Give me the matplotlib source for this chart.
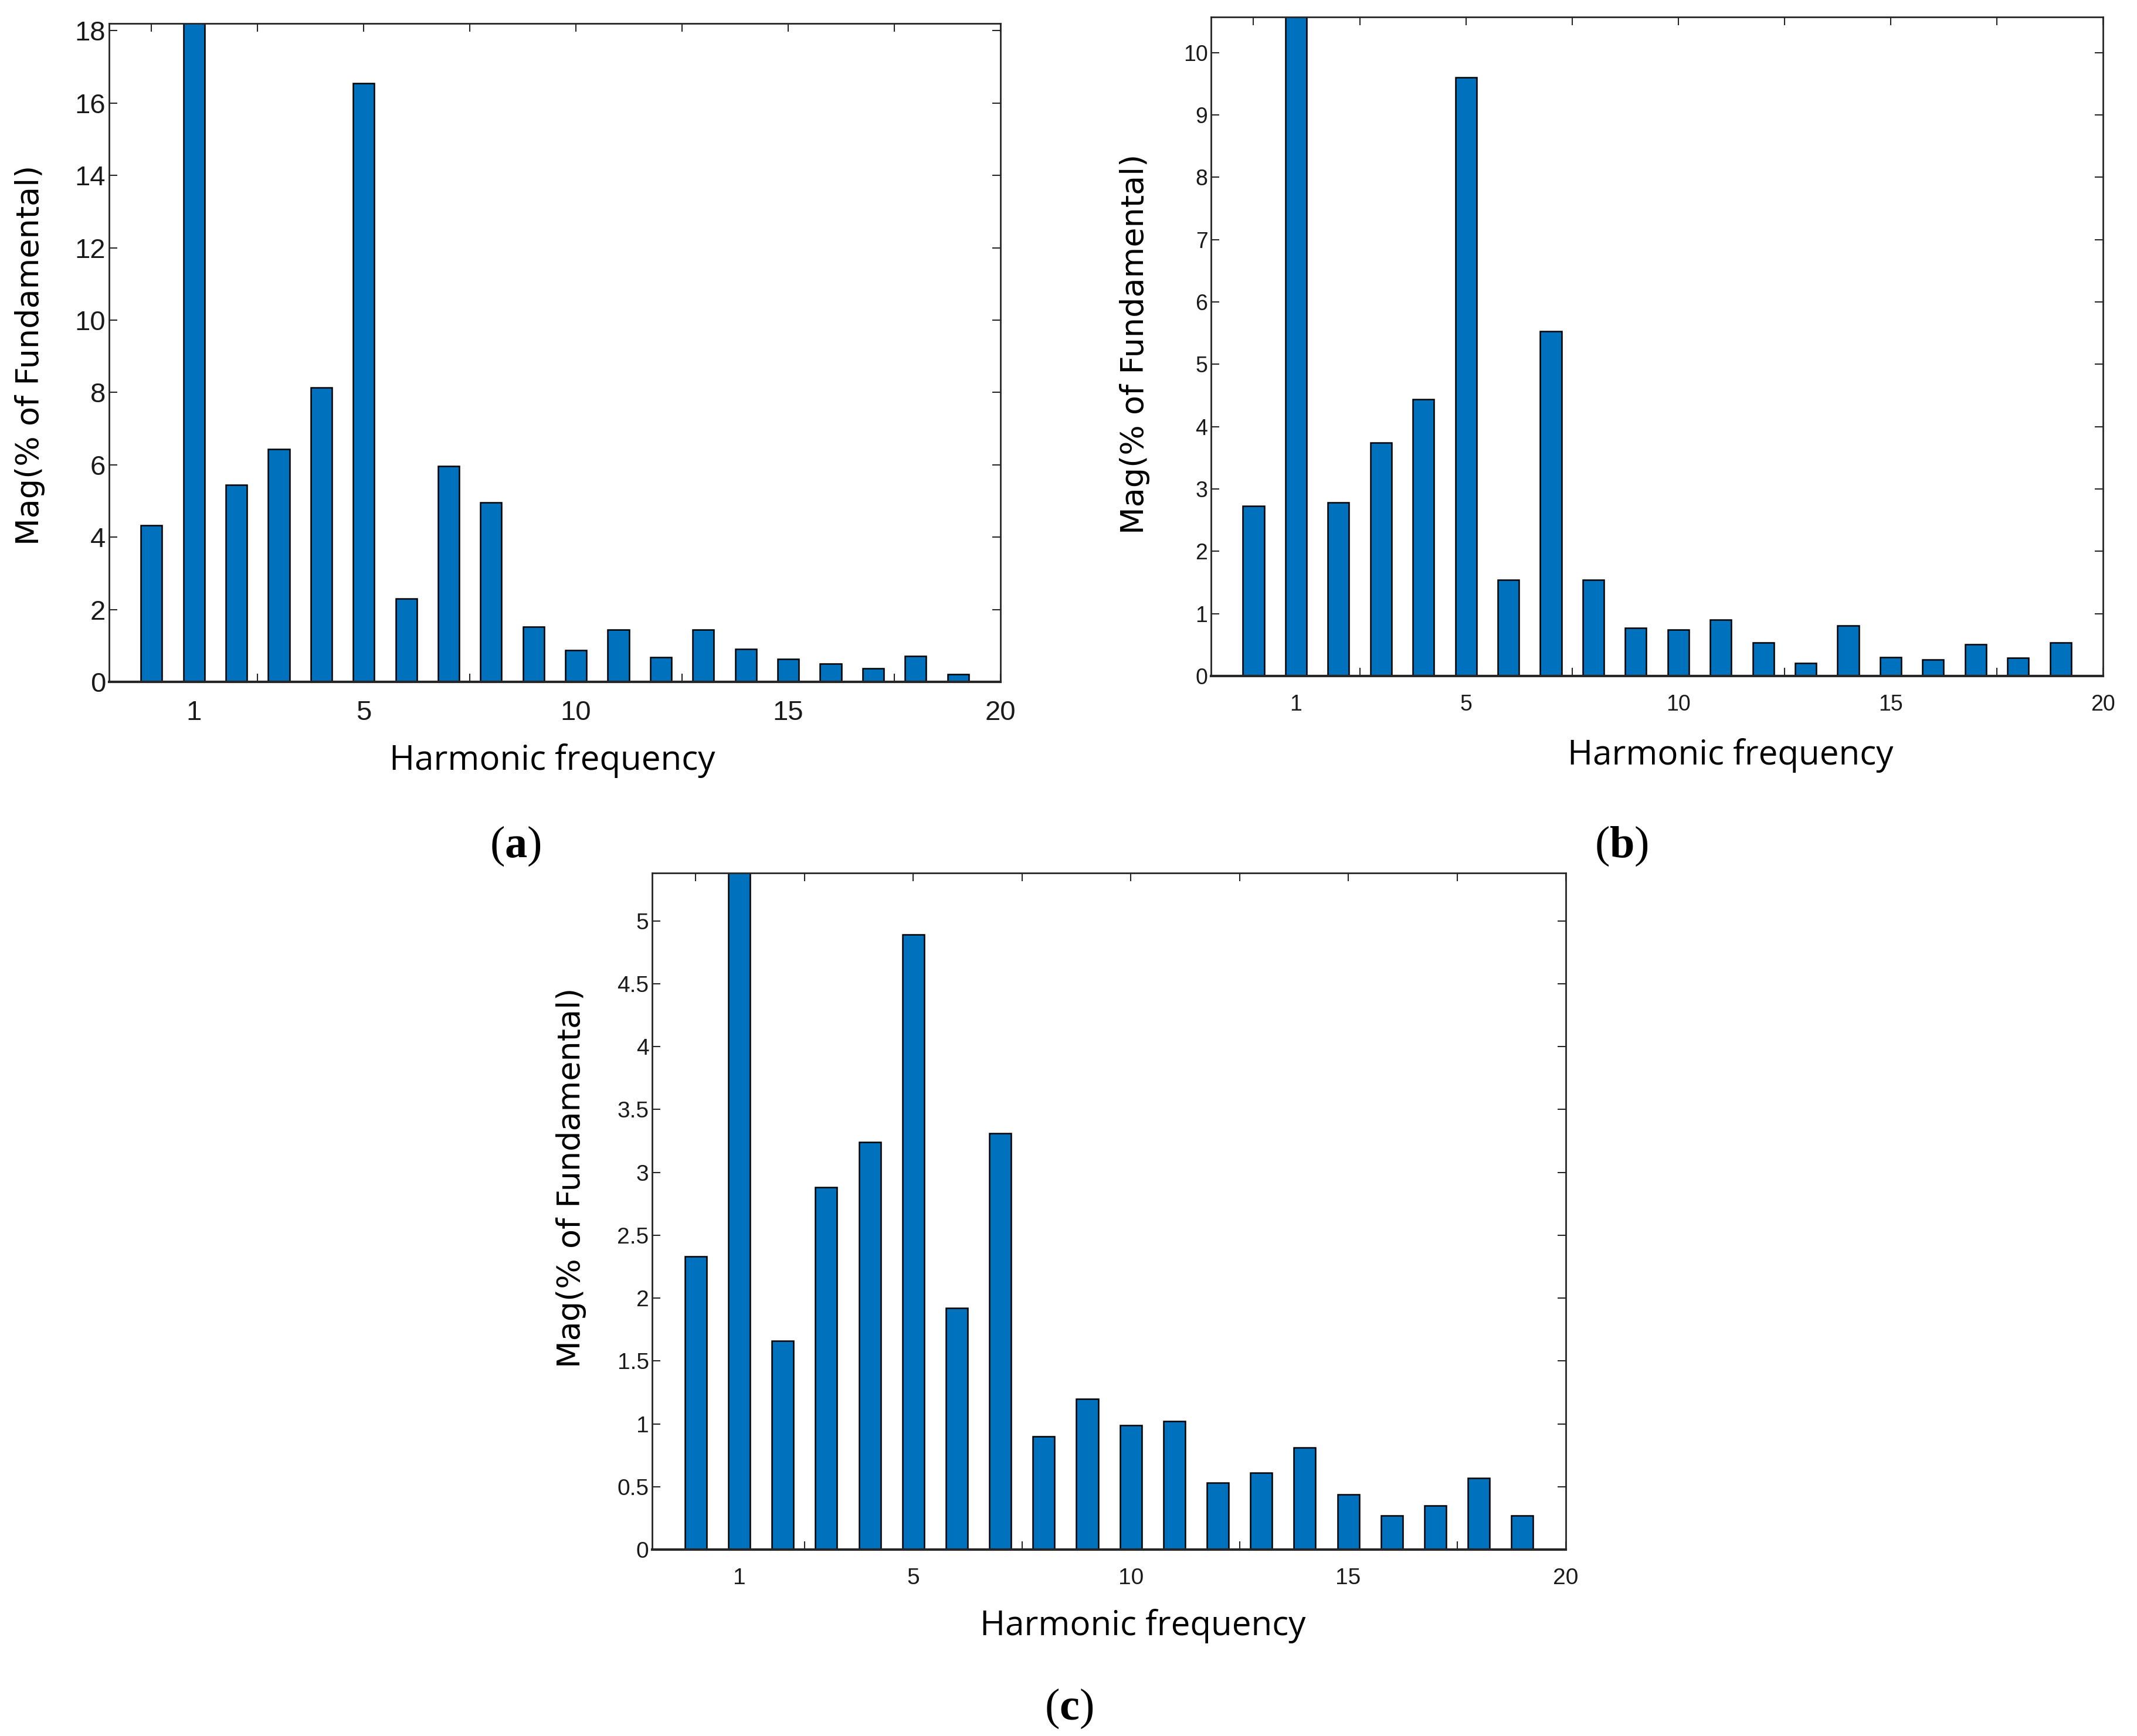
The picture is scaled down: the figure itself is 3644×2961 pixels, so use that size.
import matplotlib
matplotlib.use("Agg")
import matplotlib.pyplot as plt
from matplotlib.ticker import FixedLocator, FuncFormatter, NullFormatter
import numpy as np

plt.rcParams['mathtext.fontset'] = 'custom'
plt.rcParams['mathtext.rm'] = 'Liberation Serif'
plt.rcParams['mathtext.bf'] = 'Liberation Serif:bold'

harmonics = list(range(0, 20))
# fundamental (harmonic 1) is 100 % and is clipped by the axis
mag_a = [4.33, 100, 5.44, 6.43, 8.14, 16.54, 2.31, 5.96, 4.96, 1.52,
         0.875, 1.44, 0.68, 1.44, 0.905, 0.64, 0.50, 0.38, 0.71, 0.21]
mag_b = [2.73, 100, 2.78, 3.74, 4.44, 9.60, 1.54, 5.53, 1.54, 0.77,
         0.74, 0.90, 0.535, 0.21, 0.81, 0.30, 0.26, 0.51, 0.29, 0.535]
mag_c = [2.33, 100, 1.66, 2.88, 3.24, 4.89, 1.92, 3.31, 0.90, 1.20,
         0.99, 1.02, 0.53, 0.61, 0.81, 0.44, 0.27, 0.35, 0.57, 0.27]

xtick_labels = [1, 5, 10, 15, 20]
xtick_marks = [0, 2.5, 5, 7.5, 10, 12.5, 15, 17.5, 20]
yticks_a = [0, 2, 4, 6, 8, 10, 12, 14, 16, 18]
yticks_b = [0, 1, 2, 3, 4, 5, 6, 7, 8, 9, 10]
yticks_c = [0, 0.5, 1, 1.5, 2, 2.5, 3, 3.5, 4, 4.5, 5]

BAR = '#0072BD'
SPINE = '#262626'

fig = plt.figure(figsize=(36.44, 29.61), dpi=100)

panels = [
    dict(rect=[0.0510, 0.6072, 0.4172, 0.3793], data=mag_a, yt=yticks_a, ymax=18.2, fs=34,
         ylab=(51, 606), xlab=(942, 1298), plab=(879, 1443), name='a'),
    dict(rect=[0.5667, 0.6106, 0.4174, 0.3796], data=mag_b, yt=yticks_b, ymax=10.57, fs=27,
         ylab=(1935, 587), xlab=(2951, 1289), plab=(2765, 1443), name='b'),
    dict(rect=[0.3052, 0.1074, 0.4275, 0.3897], data=mag_c, yt=yticks_c, ymax=5.38, fs=28,
         ylab=(974, 2009), xlab=(1949, 2774), plab=(1823, 2914), name='c'),
]

W, H = 3644.0, 2961.0
fmt = FuncFormatter(lambda v, p: '%g' % v)

for p in panels:
    ax = fig.add_axes(p['rect'])
    ax.bar(harmonics, p['data'], width=0.5, color=BAR, edgecolor='black', linewidth=1.8, zorder=2)
    ax.set_xlim(-1, 20)
    ax.set_ylim(0, p['ymax'])
    ax.xaxis.remove_overlapping_locs = False
    ax.xaxis.set_major_locator(FixedLocator(xtick_marks))
    ax.xaxis.set_major_formatter(NullFormatter())
    ax.xaxis.set_minor_locator(FixedLocator(xtick_labels))
    ax.xaxis.set_minor_formatter(fmt)
    ax.tick_params(axis='x', which='major', direction='in', length=10, width=1.5,
                   color=SPINE, top=True, bottom=True)
    ax.tick_params(axis='x', which='minor', length=0, pad=22, labelsize=p['fs'],
                   labelcolor='#1a1a1a', top=False)
    ax.set_yticks(p['yt'])
    ax.yaxis.set_major_formatter(fmt)
    ax.tick_params(axis='y', direction='in', length=10, width=1.5, color=SPINE,
                   left=True, right=True, labelsize=p['fs'], pad=4, labelcolor='#1a1a1a')
    for lab in ax.get_xticklabels(which='minor') + ax.get_yticklabels():
        lab.set_family('Liberation Sans')
    for s in ax.spines.values():
        s.set_color(SPINE)
        s.set_linewidth(2)
    ax.spines['bottom'].set_linewidth(3)

    fig.text(p['ylab'][0] / W, 1 - p['ylab'][1] / H, 'Mag(% of Fundamental)',
             rotation=90, ha='center', va='center', fontsize=39, family='DejaVu Sans')
    fig.text(p['xlab'][0] / W, 1 - p['xlab'][1] / H, 'Harmonic frequency',
             ha='center', va='center', fontsize=42, family='Open Sans')
    fig.text(p['plab'][0] / W, 1 - p['plab'][1] / H,
             r'$\mathrm{(}\mathbf{%s}\mathrm{)}$' % p['name'],
             ha='center', va='center', fontsize=55)

fig.savefig('out.png', dpi=100, facecolor='white')
